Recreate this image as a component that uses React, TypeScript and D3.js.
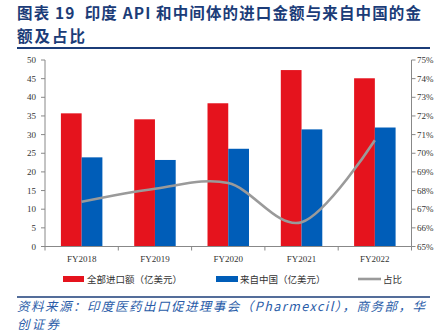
import React from "react";
import * as d3 from "d3";

const categories = ["FY2018", "FY2019", "FY2020", "FY2021", "FY2022"];
const totalImports = [35.7, 34.1, 38.4, 47.3, 45.1];
const fromChina = [23.9, 23.2, 26.2, 31.4, 31.9];
const share = [67.4, 68.1, 68.4, 66.3, 70.7];
const leftTicks = [0, 5, 10, 15, 20, 25, 30, 35, 40, 45, 50];
const rightTicks = [65, 66, 67, 68, 69, 70, 71, 72, 73, 74, 75];

const RED = "#E5131D";
const BLUE = "#005DB8";
const GRAY = "#9A9A9A";
const NAVY = "#1B3C78";

export default function App() {
  const W = 441, H = 334;
  const left = 45, right = 411.5, top = 60, bottom = 246.5;
  const x = d3.scaleBand<string>().domain(categories).range([left, right]).paddingInner(0).paddingOuter(0);
  const yL = d3.scaleLinear().domain([0, 50]).range([bottom, top]);
  const yR = d3.scaleLinear().domain([65, 75]).range([bottom, top]);
  const bw = x.bandwidth();
  const barW = bw * 0.283;
  const gap = (bw - 2 * barW) / 2;
  const line = d3
    .line<number>()
    .x((_, i) => (x(categories[i]) as number) + bw / 2)
    .y((d) => yR(d))
    .curve(d3.curveCardinal.tension(0));
  const axisFont = "'Liberation Serif', 'Times New Roman', serif";
  const cjk = "'Noto Sans CJK SC', sans-serif";
  return (
    <svg width={W} height={H} style={{ position: "absolute", left: 0, top: 0 }}>
      <rect x={0} y={0} width={W} height={H} fill="#fff" />
      <text x={17} y={18.5} fontFamily={cjk} fontWeight="bold" fontSize={15.5} fill={NAVY}
        textLength={404} lengthAdjust="spacing" style={{ whiteSpace: "pre" }}>
        {"图表 19  印度 API 和中间体的进口金额与来自中国的金"}
      </text>
      <text x={17} y={41.5} fontFamily={cjk} fontWeight="bold" fontSize={15.5} fill={NAVY}
        textLength={68} lengthAdjust="spacing">
        额及占比
      </text>
      <line x1={17} x2={430} y1={48} y2={48} stroke={NAVY} strokeWidth={2} />

      {categories.map((c, i) => {
        const x0 = x(c) as number;
        return (
          <g key={c}>
            <rect x={x0 + gap} y={yL(totalImports[i])} width={barW} height={bottom - yL(totalImports[i])} fill={RED} />
            <rect x={x0 + gap + barW} y={yL(fromChina[i])} width={barW} height={bottom - yL(fromChina[i])} fill={BLUE} />
          </g>
        );
      })}
      <path d={line(share) || ""} fill="none" stroke={GRAY} strokeWidth={2.6} />

      {/* left axis */}
      <line x1={left} x2={left} y1={top} y2={bottom} stroke="#888" strokeWidth={1} />
      {leftTicks.map((t) => (
        <g key={t}>
          <line x1={left - 4} x2={left} y1={yL(t)} y2={yL(t)} stroke="#888" />
          <text x={36} y={yL(t) + 3} textAnchor="end" fontFamily={axisFont} fontSize={9} fill="#333">
            {t}
          </text>
        </g>
      ))}
      {/* right axis */}
      <line x1={right} x2={right} y1={top} y2={bottom} stroke="#888" strokeWidth={1} />
      {rightTicks.map((t) => (
        <g key={t}>
          <line x1={right} x2={right + 4} y1={yR(t)} y2={yR(t)} stroke="#888" />
          <text x={417} y={yR(t) + 3} textAnchor="start" fontFamily={axisFont} fontSize={9} fill="#333">
            {t}%
          </text>
        </g>
      ))}
      {/* x axis */}
      <line x1={left - 4} x2={right} y1={bottom} y2={bottom} stroke="#888" />
      {categories.map((c, i) => (
        <g key={c}>
          <line x1={(x(c) as number)} x2={(x(c) as number)} y1={bottom} y2={bottom + 4} stroke="#888" />
          {i === categories.length - 1 && (
            <line x1={right} x2={right} y1={bottom} y2={bottom + 4} stroke="#888" />
          )}
          <text x={(x(c) as number) + bw / 2} y={262} textAnchor="middle" fontFamily={axisFont} fontSize={9} fill="#333">
            {c}
          </text>
        </g>
      ))}

      {/* legend */}
      <rect x={63} y={276} width={21} height={6} fill={RED} />
      <text x={87} y={283} fontFamily={cjk} fontSize={9.5} fill="#333">全部进口额（亿美元）</text>
      <rect x={216} y={276} width={22} height={6} fill={BLUE} />
      <text x={240} y={283} fontFamily={cjk} fontSize={9.5} fill="#333">来自中国（亿美元）</text>
      <line x1={358} x2={381} y1={279} y2={279} stroke={GRAY} strokeWidth={2.6} />
      <text x={383} y={283} fontFamily={cjk} fontSize={9.5} fill="#333">占比</text>

      <line x1={17} x2={430} y1={297} y2={297} stroke={NAVY} strokeWidth={1.5} />
      <text x={17} y={311} fontFamily={cjk} fontStyle="italic" fontSize={12.5} fill="#2A5CA8"
        textLength={408} lengthAdjust="spacing">
        资料来源：印度医药出口促进理事会（Pharmexcil），商务部，华
      </text>
      <text x={17} y={329} fontFamily={cjk} fontStyle="italic" fontSize={12.5} fill="#2A5CA8"
        textLength={42} lengthAdjust="spacing">
        创证券
      </text>
    </svg>
  );
}
